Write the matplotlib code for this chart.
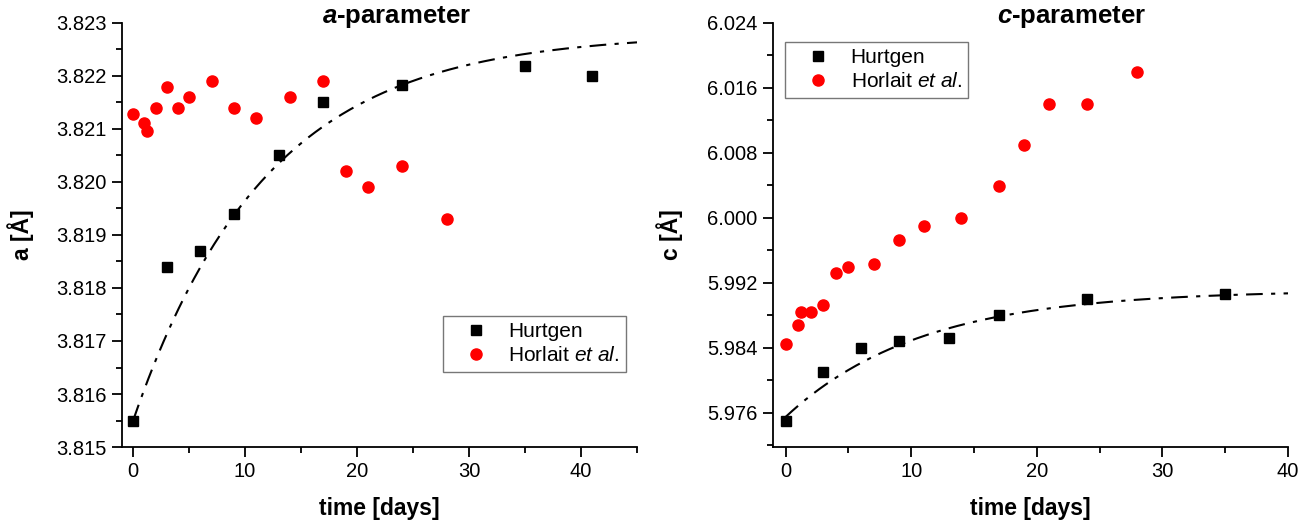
import numpy as np
import matplotlib
matplotlib.use("Agg")
import matplotlib.pyplot as plt
from matplotlib.ticker import MultipleLocator, FormatStrFormatter

plt.rcParams["font.family"] = ["Liberation Sans", "DejaVu Sans"]
plt.rcParams["mathtext.fontset"] = "custom"
plt.rcParams["mathtext.rm"] = "Liberation Sans"
plt.rcParams["mathtext.it"] = "Liberation Sans:italic"
plt.rcParams["mathtext.bf"] = "Liberation Sans:bold"
plt.rcParams["mathtext.bfit"] = "Liberation Sans:bold:italic"

# a-parameter data
a_hurtgen_t = [0, 3, 6, 9, 13, 17, 24, 35, 41]
a_hurtgen = [3.8155, 3.8184, 3.8187, 3.8194, 3.8205, 3.8215, 3.82182, 3.82218, 3.8220]
a_horlait_t = [0, 1, 1.25, 2, 3, 4, 5, 7, 9, 11, 14, 17, 19, 21, 24, 28]
a_horlait = [3.82129, 3.82111, 3.82096, 3.8214, 3.8218, 3.8214, 3.8216, 3.8219,
             3.8214, 3.8212, 3.8216, 3.8219, 3.8202, 3.8199, 3.8203, 3.8193]
# exponential fit parameters (plateau, amplitude, time constant)
a_fit = (3.8228, 0.0073, 11.9)

# c-parameter data
c_hurtgen_t = [0, 3, 6, 9, 13, 17, 24, 35]
c_hurtgen = [5.97497, 5.9810, 5.9840, 5.98482, 5.98523, 5.9880, 5.9900, 5.99067]
c_horlait_t = [0, 1, 1.25, 2, 3, 4, 5, 7, 9, 11, 14, 17, 19, 21, 24, 28]
c_horlait = [5.98449, 5.9868, 5.9884, 5.9884, 5.9893, 5.9932, 5.9940, 5.9943,
             5.99733, 5.99897, 6.0000, 6.00395, 6.0090, 6.0140, 6.0140, 6.0180]
c_fit = (5.9911, 0.0156, 10.8)


def fit_curve(t, p):
    return p[0] - p[1] * np.exp(-t / p[2])


fig = plt.figure(figsize=(13.14, 5.21), dpi=100)
ax1 = fig.add_axes([0.0928, 0.142, 0.392, 0.814])
ax2 = fig.add_axes([0.5883, 0.142, 0.392, 0.814])


def style_axes(ax, xmax, ymin, ymax, ymajor, title, title_x, ylabel):
    ax.spines["top"].set_visible(False)
    ax.spines["right"].set_visible(False)
    ax.spines["left"].set_linewidth(1.3)
    ax.spines["bottom"].set_linewidth(1.3)
    ax.set_xlim(-1, xmax)
    ax.set_ylim(ymin, ymax)
    ax.xaxis.set_major_locator(MultipleLocator(10))
    ax.xaxis.set_minor_locator(MultipleLocator(5))
    ax.yaxis.set_major_locator(MultipleLocator(ymajor))
    ax.yaxis.set_minor_locator(MultipleLocator(ymajor / 2))
    ax.yaxis.set_major_formatter(FormatStrFormatter("%.3f"))
    ax.tick_params(which="major", direction="out", length=7, width=1.3,
                   labelsize=14.5, pad=4)
    ax.tick_params(which="minor", direction="out", length=4, width=1.3)
    ax.set_xlabel("time [days]", fontsize=16.5, fontweight="bold")
    ax.set_ylabel(ylabel, fontsize=16.5, fontweight="bold")
    ax.xaxis.set_label_coords(0.5, -0.118)
    ax.text(title_x, 1.014, title, transform=ax.transAxes, ha="center",
            va="center", fontsize=18.5, fontweight="bold")


def draw(ax, ht, hy, rt, ry, fitp, xmax):
    t = np.linspace(0, xmax, 300)
    ax.plot(t, fit_curve(t, fitp), color="black", lw=1.5,
            dashes=(8, 4, 2, 4))
    ax.plot(ht, hy, "s", color="black", ms=6.5, label="Hurtgen")
    ax.plot(rt, ry, "o", color="red", ms=8, mec="red",
            label=r"Horlait $\mathit{et\ al}$.")


def add_legend(ax, x, y):
    leg = ax.legend(loc="upper left", bbox_to_anchor=(x, y), fontsize=15,
                    frameon=True, fancybox=False, edgecolor="#555555",
                    handletextpad=0.25, borderpad=0.3, labelspacing=0.25,
                    handlelength=2.6, borderaxespad=0)
    leg.get_frame().set_linewidth(1.0)


draw(ax1, a_hurtgen_t, a_hurtgen, a_horlait_t, a_horlait, a_fit, 45)
style_axes(ax1, 45, 3.815, 3.823, 0.001, r"$\mathbfit{a}$-parameter", 0.534,
           "a [Å]")
ax1.yaxis.set_label_coords(-0.17, 0.5)
add_legend(ax1, 0.623, 0.309)

draw(ax2, c_hurtgen_t, c_hurtgen, c_horlait_t, c_horlait, c_fit, 40)
style_axes(ax2, 40, 5.9718, 6.024, 0.008, r"$\mathbfit{c}$-parameter", 0.579,
           "c [Å]")
ax2.yaxis.set_label_coords(-0.175, 0.5)
add_legend(ax2, 0.0233, 0.955)

fig.savefig("out.png", dpi=100)
